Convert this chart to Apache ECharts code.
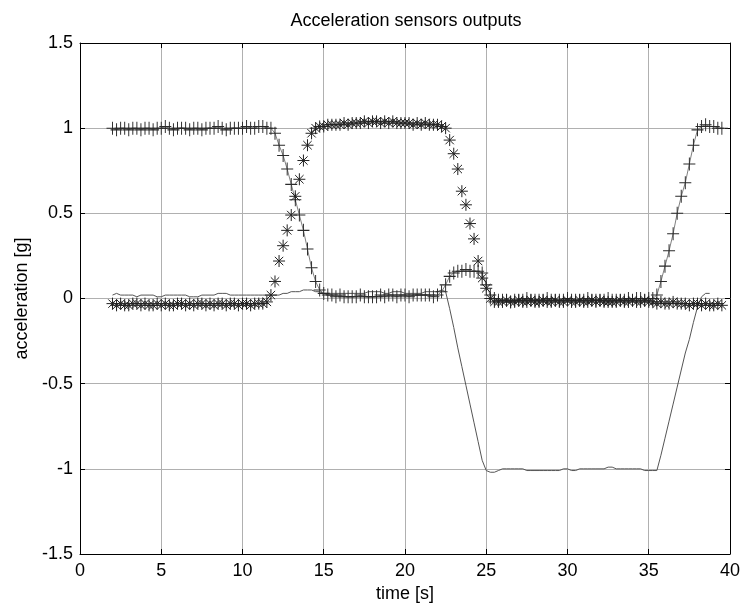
<!DOCTYPE html>
<html lang="en">

<head>
    <meta charset="UTF-8">
    <title>Acceleration sensors outputs</title>
    <script src="https://cdn.jsdelivr.net/npm/echarts@6.0.0/dist/echarts.min.js"></script>
    <style>
        html, body { margin: 0; padding: 0; background: #fff; }
        #chart { width: 743px; height: 608px; }
    </style>
</head>

<body>
    <div id="chart"></div>

    <script>
    // sampling: first sample at 2 s, one sample every 0.25 s
    const t0 = 2.0;
    const dt = 0.25;

    // '+' sensor (rows = one second, 4 samples each)
    const accPlus = [
        1.00, 0.99, 1.00, 1.00,
        0.99, 1.00, 1.00, 0.99,
        1.00, 1.00, 0.99, 1.00,
        1.00, 1.01, 1.00, 0.99,
        1.00, 1.00, 1.00, 0.99,
        1.00, 1.00, 0.99, 1.00,
        1.00, 1.00, 1.01, 1.00,
        0.99, 1.00, 1.00, 1.00,
        1.00, 1.01, 1.00, 1.00,
        1.01, 1.01, 1.00, 1.00,
        0.97, 0.90, 0.84, 0.76,
        0.67, 0.58, 0.49, 0.40,
        0.29, 0.18, 0.10, 0.05,
        0.03, 0.02, 0.02, 0.01,
        0.02, 0.01, 0.01, 0.01,
        0.01, 0.02, 0.01, 0.01,
        0.01, 0.01, 0.02, 0.01,
        0.02, 0.02, 0.01, 0.02,
        0.02, 0.01, 0.02, 0.02,
        0.02, 0.02, 0.02, 0.01,
        0.02, 0.04, 0.08, 0.13,
        0.15, 0.16, 0.16, 0.17,
        0.16, 0.16, 0.16, 0.15,
        0.08, 0.02, 0.00, -0.01,
        -0.01, -0.01, -0.02, -0.01,
        -0.01, -0.01, 0.00, -0.01,
        -0.01, -0.01, -0.01, 0.00,
        -0.01, -0.01, -0.01, -0.01,
        0.00, -0.01, -0.01, -0.01,
        -0.01, 0.00, -0.01, -0.01,
        -0.01, -0.01, 0.00, -0.01,
        -0.01, -0.01, -0.01, 0.00,
        -0.01, 0.00, 0.00, -0.01,
        0.00, 0.00, 0.02, 0.10,
        0.19, 0.28, 0.38, 0.50,
        0.60, 0.68, 0.79, 0.90,
        0.99, 1.01, 1.02, 1.01,
        1.01, 1.00, 1.00
    ];

    // '*' sensor
    const accStar = [
        -0.03, -0.04, -0.03, -0.04,
        -0.04, -0.03, -0.03, -0.04,
        -0.03, -0.04, -0.04, -0.03,
        -0.04, -0.03, -0.04, -0.04,
        -0.03, -0.03, -0.04, -0.03,
        -0.04, -0.03, -0.03, -0.04,
        -0.03, -0.04, -0.03, -0.03,
        -0.04, -0.03, -0.03, -0.04,
        -0.03, -0.03, -0.04, -0.03,
        -0.03, -0.03, -0.02, 0.02,
        0.10, 0.22, 0.31, 0.40,
        0.49, 0.60, 0.70, 0.81,
        0.90, 0.97, 1.00, 1.01,
        1.01, 1.02, 1.02, 1.02,
        1.02, 1.03, 1.02, 1.03,
        1.03, 1.03, 1.04, 1.03,
        1.04, 1.04, 1.03, 1.04,
        1.03, 1.04, 1.03, 1.03,
        1.03, 1.03, 1.02, 1.03,
        1.02, 1.03, 1.02, 1.02,
        1.02, 1.01, 1.00, 0.93,
        0.85, 0.76, 0.63, 0.55,
        0.44, 0.35, 0.22, 0.12,
        0.06, 0.00, -0.02, -0.02,
        -0.02, -0.01, -0.02, -0.02,
        -0.01, -0.02, -0.02, -0.01,
        -0.02, -0.02, -0.01, -0.02,
        -0.02, -0.01, -0.02, -0.02,
        -0.01, -0.02, -0.02, -0.01,
        -0.02, -0.02, -0.01, -0.02,
        -0.01, -0.02, -0.02, -0.02,
        -0.02, -0.01, -0.02, -0.02,
        -0.01, -0.02, -0.02, -0.01,
        -0.02, -0.02, -0.03, -0.02,
        -0.03, -0.03, -0.02, -0.03,
        -0.03, -0.03, -0.04, -0.03,
        -0.03, -0.04, -0.03, -0.04,
        -0.04, -0.03, -0.04
    ];

    // plain line sensor (ends at 38.75 s)
    const accLine = [
        0.02, 0.03, 0.02, 0.02,
        0.02, 0.02, 0.01, 0.02,
        0.02, 0.02, 0.02, 0.01,
        0.01, 0.02, 0.02, 0.02,
        0.02, 0.02, 0.02, 0.01,
        0.01, 0.01, 0.02, 0.02,
        0.02, 0.02, 0.03, 0.03,
        0.03, 0.02, 0.02, 0.02,
        0.02, 0.02, 0.02, 0.02,
        0.02, 0.02, 0.02, 0.02,
        0.02, 0.02, 0.03, 0.03,
        0.04, 0.04, 0.04, 0.05,
        0.05, 0.05, 0.04, 0.04,
        0.03, 0.03, 0.03, 0.03,
        0.03, 0.03, 0.03, 0.03,
        0.03, 0.03, 0.03, 0.04,
        0.04, 0.04, 0.04, 0.03,
        0.03, 0.04, 0.04, 0.04,
        0.03, 0.03, 0.03, 0.03,
        0.03, 0.04, 0.04, 0.04,
        0.04, 0.05, 0.04, -0.06,
        -0.17, -0.29, -0.40, -0.51,
        -0.62, -0.73, -0.84, -0.95,
        -1.01, -1.02, -1.02, -1.01,
        -1.00, -1.00, -1.00, -1.00,
        -1.00, -1.00, -1.01, -1.01,
        -1.01, -1.01, -1.01, -1.01,
        -1.01, -1.01, -1.01, -1.00,
        -1.00, -1.01, -1.01, -1.00,
        -1.00, -1.00, -1.00, -1.00,
        -1.00, -1.00, -0.99, -0.99,
        -1.00, -1.00, -1.00, -1.00,
        -1.00, -1.00, -1.00, -1.01,
        -1.01, -1.01, -1.01, -0.92,
        -0.82, -0.72, -0.62, -0.52,
        -0.42, -0.32, -0.24, -0.14,
        -0.05, 0.01, 0.03, 0.03
    ];

    const xTicks = [0, 5, 10, 15, 20, 25, 30, 35, 40];
    const yTicks = [-1.5, -1, -0.5, 0, 0.5, 1, 1.5];

    function pairs(vals) {
        return vals.map((v, i) => [t0 + i * dt, v]);
    }

    const font = 'Liberation Sans, Arial, Helvetica, sans-serif';
    const plusSym = 'path://M0,5L10,5M5,0L5,10';
    const starSym = 'path://M0,5L10,5M5,0L5,10M1.5,1.5L8.5,8.5M1.5,8.5L8.5,1.5';

    const chart = echarts.init(document.getElementById('chart'));

    function boxAxis(pos, isX) {
        return {
            type: 'value',
            position: pos,
            min: isX ? xTicks[0] : yTicks[0],
            max: isX ? xTicks[xTicks.length - 1] : yTicks[yTicks.length - 1],
            interval: isX ? 5 : 0.5,
            axisLine: { show: true, onZero: false, lineStyle: { color: '#000', width: 1 } },
            axisTick: { show: true, inside: true, length: 5, lineStyle: { color: '#000' } },
            axisLabel: { show: false },
            splitLine: { show: false }
        };
    }

    const option = {
        animation: false,
        backgroundColor: '#fff',
        title: {
            text: 'Acceleration sensors outputs',
            left: 406,
            top: 12,
            padding: 0,
            textAlign: 'center',
            textStyle: { fontFamily: font, fontSize: 18, fontWeight: 'normal', color: '#000' }
        },
        grid: { left: 80, right: 10, top: 43, bottom: 51, containLabel: false },
        xAxis: [
            {
                type: 'value',
                position: 'bottom',
                min: 0,
                max: 40,
                interval: 5,
                name: 'time [s]',
                nameLocation: 'middle',
                nameGap: 31,
                nameTextStyle: { fontFamily: font, fontSize: 18, color: '#000' },
                axisLine: { show: true, onZero: false, lineStyle: { color: '#000', width: 1 } },
                axisTick: { show: true, inside: true, length: 5, lineStyle: { color: '#000' } },
                axisLabel: {
                    margin: 8, fontFamily: font, fontSize: 18, color: '#000',
                    formatter: v => xTicks.includes(v) ? String(v) : ''
                },
                splitLine: { show: true, lineStyle: { color: '#b0b0b0', width: 1 } }
            },
            boxAxis('top', true)
        ],
        yAxis: [
            {
                type: 'value',
                position: 'left',
                min: -1.5,
                max: 1.5,
                interval: 0.5,
                name: 'acceleration [g]',
                nameLocation: 'middle',
                nameGap: 49,
                nameTextStyle: { fontFamily: font, fontSize: 18, color: '#000' },
                axisLine: { show: true, onZero: false, lineStyle: { color: '#000', width: 1 } },
                axisTick: { show: true, inside: true, length: 5, lineStyle: { color: '#000' } },
                axisLabel: {
                    margin: 7, fontFamily: font, fontSize: 18, color: '#000',
                    formatter: v => String(v)
                },
                splitLine: { show: true, lineStyle: { color: '#b0b0b0', width: 1 } }
            },
            boxAxis('right', false)
        ],
        series: [
            {
                name: 'line',
                type: 'line',
                data: pairs(accLine),
                showSymbol: false,
                lineStyle: { color: '#555', width: 1 },
                z: 2
            },
            {
                name: 'plus',
                type: 'line',
                data: pairs(accPlus),
                symbol: plusSym,
                symbolSize: [12, 13],
                showAllSymbol: true,
                lineStyle: { color: '#808080', width: 1 },
                itemStyle: { color: 'transparent', borderColor: '#2a2a2a', borderWidth: 1 },
                z: 3
            },
            {
                name: 'star',
                type: 'scatter',
                data: pairs(accStar),
                symbol: starSym,
                symbolSize: 12,
                itemStyle: { color: 'transparent', borderColor: '#222', borderWidth: 1, opacity: 1 },
                z: 4
            }
        ]
    };
    chart.setOption(option);
    </script>
</body>

</html>
